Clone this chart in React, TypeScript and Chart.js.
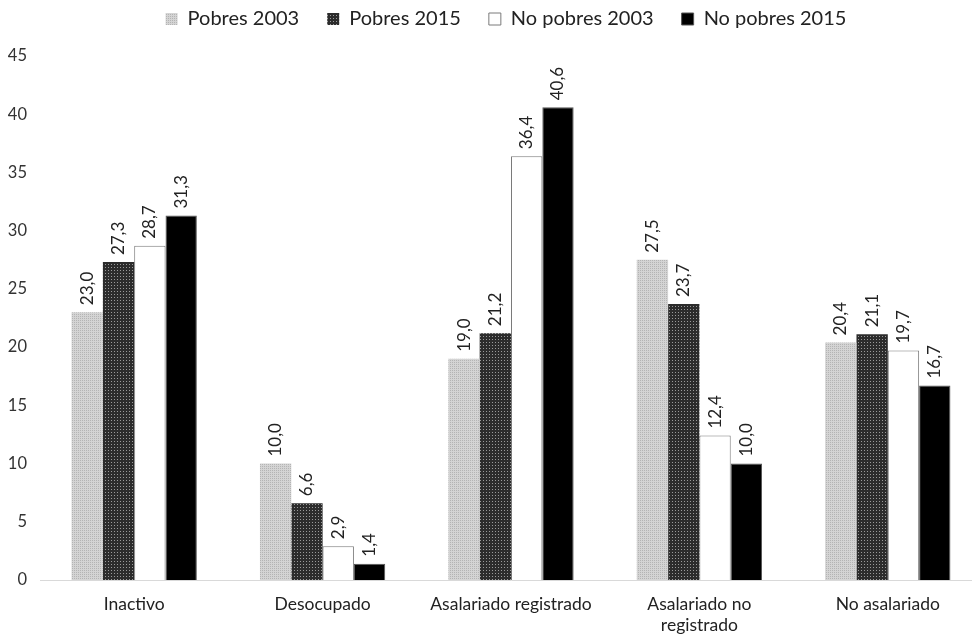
import React, { useEffect, useRef } from "react";
import { Chart, registerables } from "chart.js";

Chart.register(...registerables);

const categories: (string | string[])[] = [
  "Inactivo",
  "Desocupado",
  "Asalariado registrado",
  ["Asalariado no", "registrado"],
  "No asalariado",
];
const seriesNames = ["Pobres 2003", "Pobres 2015", "No pobres 2003", "No pobres 2015"];
const pobres2003 = [23.0, 10.0, 19.0, 27.5, 20.4];
const pobres2015 = [27.3, 6.6, 21.2, 23.7, 21.1];
const noPobres2003 = [28.7, 2.9, 36.4, 12.4, 19.7];
const noPobres2015 = [31.3, 1.4, 40.6, 10.0, 16.7];

const FONT = "Lato, 'Open Sans', 'DejaVu Sans', sans-serif";

function makePattern(bg: string, dot: string, size: number): CanvasPattern | string {
  const c = document.createElement("canvas");
  c.width = size;
  c.height = size;
  const ctx = c.getContext("2d");
  if (!ctx) return bg;
  ctx.fillStyle = bg;
  ctx.fillRect(0, 0, size, size);
  ctx.fillStyle = dot;
  ctx.fillRect(0, 0, 1, 1);
  const p = ctx.createPattern(c, "repeat");
  return p || bg;
}

const valueLabels = {
  id: "valueLabels",
  afterDatasetsDraw(chart: any) {
    const ctx = chart.ctx;
    ctx.save();
    ctx.font = `17px ${FONT}`;
    ctx.fillStyle = "#222";
    ctx.textAlign = "left";
    ctx.textBaseline = "middle";
    chart.data.datasets.forEach((ds: any, i: number) => {
      const meta = chart.getDatasetMeta(i);
      meta.data.forEach((el: any, j: number) => {
        const v = ds.data[j] as number;
        const txt = v.toFixed(1).replace(".", ",");
        ctx.save();
        ctx.translate(el.x, el.y - 7);
        ctx.rotate(-Math.PI / 2);
        ctx.fillText(txt, 0, 0);
        ctx.restore();
      });
    });
    ctx.restore();
  },
};

const legendSpace = {
  id: "legendSpace",
  beforeInit(chart: any) {
    const legend = chart.legend;
    if (!legend) return;
    const origFit = legend.fit;
    legend.fit = function () {
      origFit.call(this);
      this.height = 75;
    };
  },
  afterLayout(chart: any) {
    const legend = chart.legend;
    if (!legend) return;
    legend.left += 15;
    legend.right += 15;
  },
};

const CANVAS_W = 982;
const CANVAS_H = 636;

export default function App() {
  const ref = useRef<HTMLCanvasElement>(null);
  useEffect(() => {
    document.body.style.margin = "0";
    document.body.style.overflow = "hidden";
    if (!ref.current) return;
    const lightPat = makePattern("#d4d4d4", "#b4b4b4", 2);
    const darkPat = makePattern("#2c2c2c", "#9a9a9a", 3);
    const chart = new Chart(ref.current, {
      type: "bar",
      data: {
        labels: categories,
        datasets: [
          { label: seriesNames[0], data: pobres2003, backgroundColor: lightPat as any, borderWidth: 0 },
          { label: seriesNames[1], data: pobres2015, backgroundColor: darkPat as any, borderWidth: 0 },
          { label: seriesNames[2], data: noPobres2003, backgroundColor: "#ffffff", borderColor: "#7a7a7a", borderWidth: 1 },
          { label: seriesNames[3], data: noPobres2015, backgroundColor: "#000000", borderColor: "#555555", borderWidth: 1 },
        ],
      },
      options: {
        animation: false,
        responsive: false,
        maintainAspectRatio: false,
        layout: { padding: { left: 0, right: 0, top: -19, bottom: 0 } },
        datasets: { bar: { barPercentage: 1, categoryPercentage: 0.665 } },
        plugins: {
          legend: {
            position: "top",
            labels: {
              boxWidth: 12,
              boxHeight: 12,
              font: { family: FONT, size: 20 },
              color: "#222",
              padding: 28,
            },
          },
          tooltip: { enabled: false },
        },
        scales: {
          x: {
            grid: { display: false, drawTicks: false },
            border: { display: true, color: "#d9d9d9", width: 1 },
            ticks: {
              font: { family: FONT, size: 17.5, lineHeight: 1.25 },
              color: "#222",
              maxRotation: 0,
              autoSkip: false,
              padding: 13,
            },
            afterFit(scale: any) {
              scale.height = 56;
            },
          },
          y: {
            min: 0,
            max: 45,
            grid: { display: false, drawTicks: false },
            border: { display: false },
            ticks: { stepSize: 5, font: { family: FONT, size: 16.5 }, color: "#333", padding: 13 },
            afterFit(scale: any) {
              scale.width = 40;
            },
          },
        },
      },
      plugins: [legendSpace, valueLabels],
    });
    return () => chart.destroy();
  }, []);
  return (
    <div style={{ width: 972, height: CANVAS_H, overflow: "hidden" }}>
      <canvas
        ref={ref}
        width={CANVAS_W}
        height={CANVAS_H}
        style={{ width: CANVAS_W, height: CANVAS_H, display: "block" }}
      />
    </div>
  );
}
